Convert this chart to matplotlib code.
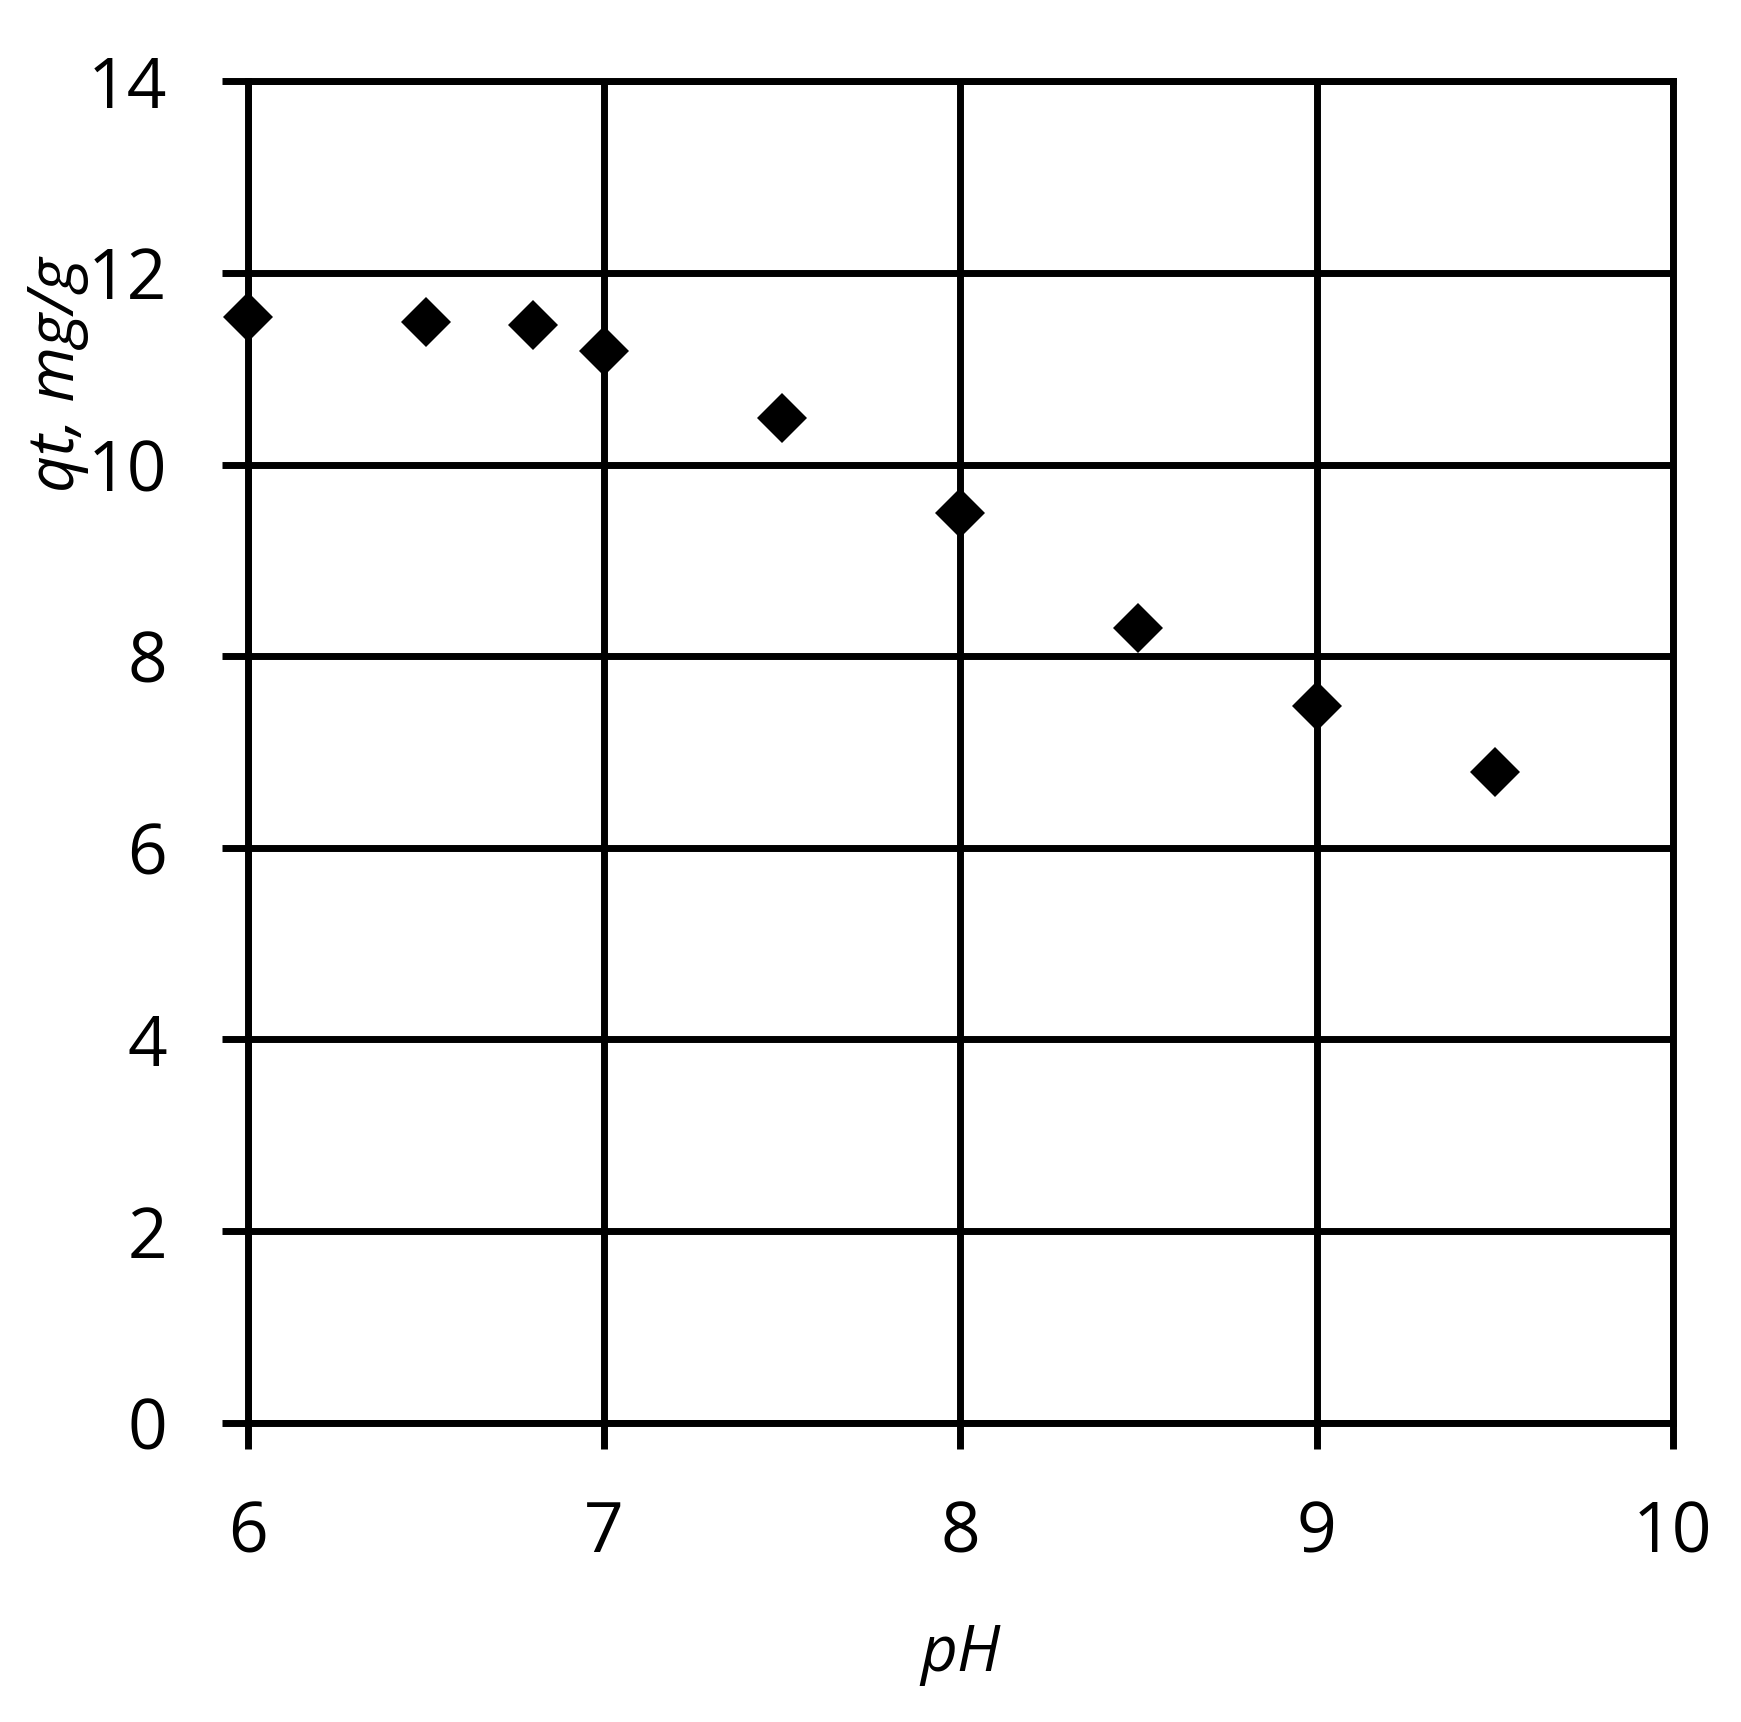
import numpy as np
import matplotlib.pyplot as plt

ph = [6.0, 6.5, 6.8, 7.0, 7.5, 8.0, 8.5, 9.0, 9.5]
qt = [11.54, 11.49, 11.46, 11.19, 10.49, 9.49, 8.29, 7.48, 6.79]
xticks = [6, 7, 8, 9, 10]
yticks = [0, 2, 4, 6, 8, 10, 12, 14]

plt.rcParams['font.family'] = ['Open Sans', 'DejaVu Sans']

fig = plt.figure(figsize=(17.41, 17.22), dpi=100)
ax = fig.add_axes([0.1423, 0.1738, 0.8185, 0.779])

ax.plot(ph, qt, linestyle='none', marker='D', markersize=25.8, markeredgewidth=0,
        color='black', clip_on=False, zorder=3)

ax.set_xlim(6, 10)
ax.set_ylim(0, 14)
ax.set_xticks(xticks)
ax.set_yticks(yticks)
ax.set_axisbelow(True)
ax.grid(True, color='black', linewidth=5)
for s in ax.spines.values():
    s.set_linewidth(5)
    s.set_color('black')
ax.tick_params(direction='out', length=19, width=5, labelsize=50, color='black')
ax.tick_params(axis='y', pad=39)
ax.tick_params(axis='x', pad=36)

ax.set_xlabel('pH', fontsize=46, style='italic', labelpad=38)
ax.set_ylabel('qt, mg/g', fontsize=46, style='italic')
ax.yaxis.label.set_va('center')
ax.yaxis.set_label_coords(-0.134, 0.781)

fig.savefig('out.png', dpi=100)
